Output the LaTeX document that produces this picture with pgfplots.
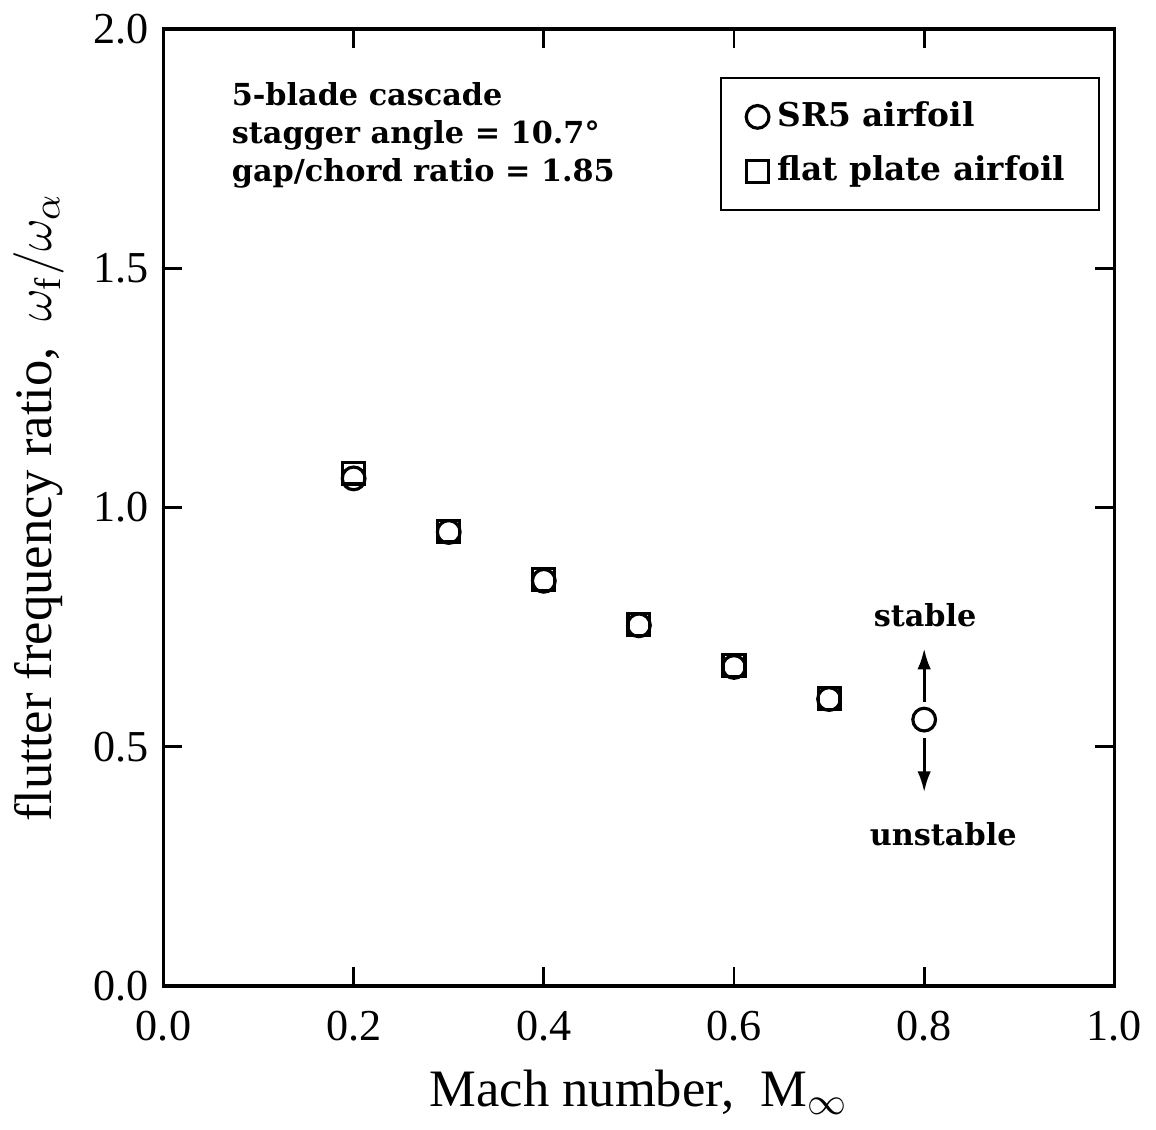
\documentclass[border=0pt]{standalone}
\usepackage{fontspec}
\setmainfont{Liberation Serif}
\newfontfamily\annfont{DejaVu Serif}
\usepackage{pgfplots}
\pgfplotsset{compat=1.18}
\usetikzlibrary{arrows.meta}
\begin{document}
\begin{tikzpicture}
\begin{axis}[
  scale only axis,
  width=226pt, height=227.5pt,
  xmin=0, xmax=1, ymin=0, ymax=2,
  xtick={0,0.2,0.4,0.6,0.8,1.0},
  ytick={0,0.5,1.0,1.5,2.0},
  /pgf/number format/assume math mode=true,
  xticklabel style={yshift=-2.5pt, /pgf/number format/.cd,fixed,fixed zerofill,precision=1},
  yticklabel style={/pgf/number format/.cd,fixed,fixed zerofill,precision=1},
  tick label style={font=\fontsize{10.5}{12}\selectfont},
  tick align=inside,
  major tick length=4.5pt,
  axis line style={line width=0.8pt},
  tick style={line width=0.7pt, black},
  xlabel={Mach number,\ \ M$_\infty$},
  ylabel={flutter frequency ratio,\ \ $\omega_{\mathrm{f}}/\omega_\alpha$},
  label style={font=\fontsize{12.5}{14}\selectfont},
  xlabel style={yshift=0pt},
  ylabel style={yshift=0pt},
  legend style={at={(rel axis cs:0.985,0.95)}, anchor=north east,
    draw=black, line width=0.6pt, font=\annfont\bfseries\fontsize{7.8}{10}\selectfont,
    row sep=1.5pt, inner xsep=6pt, inner ysep=3.5pt,
    /tikz/every even column/.append style={column sep=3pt}},
  legend cell align=left,
]
\addplot[only marks, mark=o, mark size=2.7pt, line width=0.75pt, black] coordinates {
  (0.2,1.061) (0.3,0.949) (0.4,0.847) (0.5,0.754) (0.6,0.667) (0.7,0.600) (0.8,0.557)
};
\addlegendentry{SR5 airfoil}
\addplot[only marks, mark=square, mark size=2.6pt, line width=0.75pt, black] coordinates {
  (0.2,1.072) (0.3,0.951) (0.4,0.849) (0.5,0.756) (0.6,0.670) (0.7,0.601)
};
\addlegendentry{flat plate airfoil}
\node[anchor=north west, align=left, font=\annfont\bfseries\fontsize{7.2}{9}\selectfont, inner sep=0pt]
  at (rel axis cs:0.071,0.945) {5-blade cascade\\stagger angle = 10.7°\\gap/chord ratio = 1.85};
\draw[-{Latex[length=5pt,width=3.2pt]}, line width=0.7pt] (axis cs:0.8,0.594) -- (axis cs:0.8,0.706);
\draw[-{Latex[length=5pt,width=3.2pt]}, line width=0.7pt] (axis cs:0.8,0.519) -- (axis cs:0.8,0.405);
\node[font=\annfont\bfseries\fontsize{7.2}{9}\selectfont] at (axis cs:0.801,0.775) {stable};
\node[font=\annfont\bfseries\fontsize{7.2}{9}\selectfont] at (axis cs:0.82,0.318) {unstable};
\end{axis}
\end{tikzpicture}
\end{document}
